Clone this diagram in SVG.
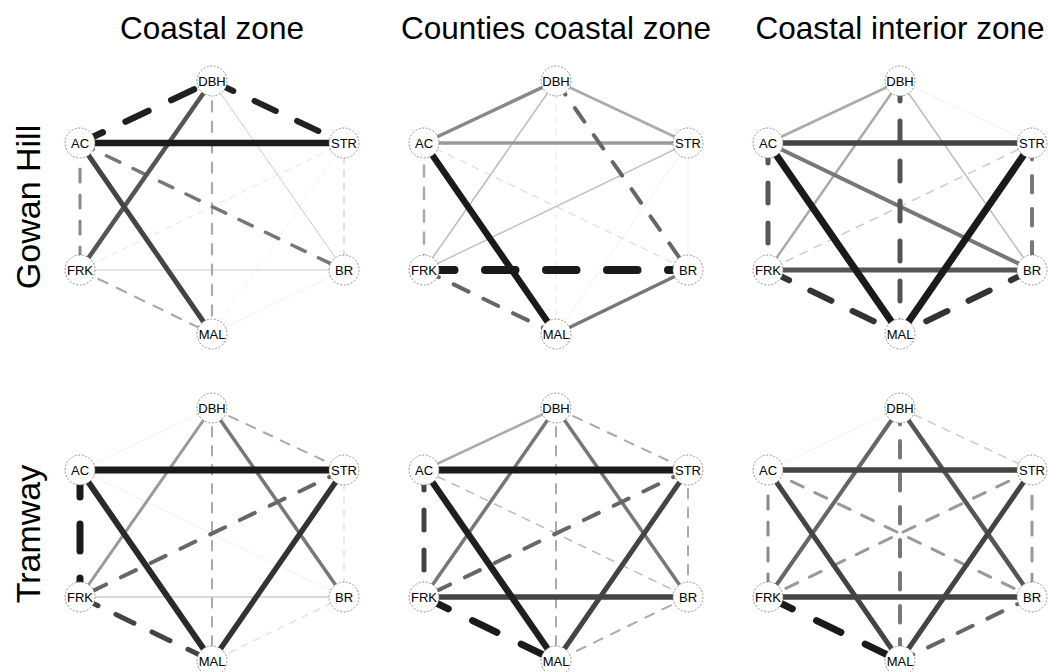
<svg xmlns="http://www.w3.org/2000/svg" width="1048" height="672" viewBox="0 0 1048 672">
<style>
.t{font-family:"Liberation Sans",Arial,sans-serif;fill:#000}
.title{font-size:31.5px;text-anchor:middle}
.row{font-size:34px;text-anchor:middle}
.n circle{fill:#fff;stroke:#7a7a7a;stroke-width:0.8;stroke-dasharray:2 1.6}
.n text{font-family:"Liberation Sans",Arial,sans-serif;font-size:13px;text-anchor:middle;fill:#000}
line{fill:none;stroke-linecap:round}
.s08{stroke-width:0.8}.s1{stroke-width:1}.s15{stroke-width:1.5}.s25{stroke-width:2.5}.s3{stroke-width:3}.s35{stroke-width:3.5}.s4{stroke-width:4}.s45{stroke-width:4.5}.s5{stroke-width:5}.s55{stroke-width:5.5}.s6{stroke-width:6}.s65{stroke-width:6.5}.s7{stroke-width:7}
.d08{stroke-width:0.8;stroke-dasharray:5.3 5.3}.d1{stroke-width:1;stroke-dasharray:6 6}.d12{stroke-width:1.2;stroke-dasharray:6.7 6.7}.d15{stroke-width:1.5;stroke-dasharray:7.8 7.8}.d2{stroke-width:2;stroke-dasharray:9.5 9.5}.d22{stroke-width:2.2;stroke-dasharray:10.2 10.2}.d25{stroke-width:2.5;stroke-dasharray:11.2 11.2}.d3{stroke-width:3;stroke-dasharray:13 13}.d35{stroke-width:3.5;stroke-dasharray:14.7 14.7}.d4{stroke-width:4;stroke-dasharray:16.5 16.5}.d5{stroke-width:5;stroke-dasharray:20 20}.d6{stroke-width:6;stroke-dasharray:23.5 23.5}.d65{stroke-width:6.5;stroke-dasharray:25.2 25.2}.d7{stroke-width:7;stroke-dasharray:27 27}.d8{stroke-width:8;stroke-dasharray:30.5 30.5}
</style>
<rect width="1048" height="672" fill="#fff"/>
<g id="titles">
<text class="t title" x="212" y="39">Coastal zone</text>
<text class="t title" x="556" y="39">Counties coastal zone</text>
<text class="t title" x="900" y="39">Coastal interior zone</text>
<text class="t row" transform="translate(40,207) rotate(-90)">Gowan Hill</text>
<text class="t row" transform="translate(40,534) rotate(-90)">Tramway</text>
</g>

<!-- Panel 1: Gowan Hill / Coastal zone -->
<g id="p1" transform="translate(0,0)">
<g id="p1-edges">
<line class="s08" stroke="#eee" x1="344" y1="270" x2="212" y2="334"/>
<line class="d08" stroke="#eee" x1="344" y1="143" x2="212" y2="334"/>
<line class="d1" stroke="#e6e6e6" x1="344" y1="143" x2="80" y2="270"/>
<line class="s15" stroke="#ddd" x1="80" y1="270" x2="344" y2="270"/>
<line class="s1" stroke="#ccc" x1="212" y1="81" x2="344" y2="270"/>
<line class="d12" stroke="#ccc" x1="344" y1="143" x2="344" y2="270"/>
<line class="d22" stroke="#aaa" x1="212" y1="81" x2="212" y2="334"/>
<line class="d22" stroke="#aaa" x1="80" y1="270" x2="212" y2="334"/>
<line class="d3" stroke="#888" x1="80" y1="143" x2="80" y2="270"/>
<line class="d35" stroke="#777" x1="80" y1="143" x2="344" y2="270"/>
<line class="s45" stroke="#555" x1="212" y1="81" x2="80" y2="270"/>
<line class="s5" stroke="#444" x1="80" y1="143" x2="212" y2="334"/>
<line class="d65" stroke="#1f1f1f" x1="80" y1="143" x2="212" y2="81"/>
<line class="d6" stroke="#222" x1="212" y1="81" x2="344" y2="143"/>
<line class="s65" stroke="#1a1a1a" x1="80" y1="143" x2="344" y2="143"/>
</g>
<g id="p1-DBH" class="n"><circle cx="212" cy="81" r="15"/><text x="212" y="85.5">DBH</text></g>
<g id="p1-AC" class="n"><circle cx="80" cy="143" r="15"/><text x="80" y="147.5">AC</text></g>
<g id="p1-STR" class="n"><circle cx="344" cy="143" r="15"/><text x="344" y="147.5">STR</text></g>
<g id="p1-FRK" class="n"><circle cx="80" cy="270" r="15"/><text x="80" y="274.5">FRK</text></g>
<g id="p1-BR" class="n"><circle cx="344" cy="270" r="15"/><text x="344" y="274.5">BR</text></g>
<g id="p1-MAL" class="n"><circle cx="212" cy="334" r="15"/><text x="212" y="338.5">MAL</text></g>
</g>

<!-- Panel 2: Gowan Hill / Counties coastal zone -->
<g id="p2" transform="translate(344,0)">
<g id="p2-edges">
<line class="s08" stroke="#eee" x1="344" y1="143" x2="212" y2="334"/>
<line class="s08" stroke="#efefef" x1="344" y1="143" x2="344" y2="270"/>
<line class="d1" stroke="#e8e8e8" x1="212" y1="81" x2="212" y2="334"/>
<line class="d12" stroke="#ddd" x1="80" y1="143" x2="344" y2="270"/>
<line class="s15" stroke="#bbb" x1="212" y1="81" x2="80" y2="270"/>
<line class="s15" stroke="#c4c4c4" x1="344" y1="143" x2="80" y2="270"/>
<line class="d25" stroke="#aaa" x1="80" y1="143" x2="80" y2="270"/>
<line class="s25" stroke="#aaa" x1="212" y1="81" x2="344" y2="143"/>
<line class="s35" stroke="#999" x1="80" y1="143" x2="344" y2="143"/>
<line class="s35" stroke="#888" x1="212" y1="81" x2="80" y2="143"/>
<line class="s35" stroke="#777" x1="344" y1="270" x2="212" y2="334"/>
<line class="d4" stroke="#666" x1="212" y1="81" x2="344" y2="270"/>
<line class="d4" stroke="#666" x1="80" y1="270" x2="212" y2="334"/>
<line class="s65" stroke="#1a1a1a" x1="80" y1="143" x2="212" y2="334"/>
<line class="d8" stroke="#1a1a1a" x1="80" y1="270" x2="344" y2="270"/>
</g>
<g id="p2-DBH" class="n"><circle cx="212" cy="81" r="15"/><text x="212" y="85.5">DBH</text></g>
<g id="p2-AC" class="n"><circle cx="80" cy="143" r="15"/><text x="80" y="147.5">AC</text></g>
<g id="p2-STR" class="n"><circle cx="344" cy="143" r="15"/><text x="344" y="147.5">STR</text></g>
<g id="p2-FRK" class="n"><circle cx="80" cy="270" r="15"/><text x="80" y="274.5">FRK</text></g>
<g id="p2-BR" class="n"><circle cx="344" cy="270" r="15"/><text x="344" y="274.5">BR</text></g>
<g id="p2-MAL" class="n"><circle cx="212" cy="334" r="15"/><text x="212" y="338.5">MAL</text></g>
</g>

<!-- Panel 3: Gowan Hill / Coastal interior zone -->
<g id="p3" transform="translate(688,0)">
<g id="p3-edges">
<line class="s08" stroke="#eee" x1="212" y1="81" x2="344" y2="143"/>
<line class="d15" stroke="#ccc" x1="344" y1="143" x2="80" y2="270"/>
<line class="s15" stroke="#bbb" x1="212" y1="81" x2="344" y2="270"/>
<line class="s25" stroke="#aaa" x1="212" y1="81" x2="80" y2="143"/>
<line class="s25" stroke="#aaa" x1="212" y1="81" x2="80" y2="270"/>
<line class="s4" stroke="#777" x1="80" y1="143" x2="344" y2="270"/>
<line class="d4" stroke="#777" x1="344" y1="143" x2="344" y2="270"/>
<line class="d5" stroke="#555" x1="212" y1="81" x2="212" y2="334"/>
<line class="d5" stroke="#555" x1="80" y1="143" x2="80" y2="270"/>
<line class="s5" stroke="#555" x1="80" y1="270" x2="344" y2="270"/>
<line class="s55" stroke="#444" x1="80" y1="143" x2="344" y2="143"/>
<line class="d6" stroke="#333" x1="80" y1="270" x2="212" y2="334"/>
<line class="d6" stroke="#333" x1="344" y1="270" x2="212" y2="334"/>
<line class="s7" stroke="#1a1a1a" x1="80" y1="143" x2="212" y2="334"/>
<line class="s7" stroke="#1a1a1a" x1="344" y1="143" x2="212" y2="334"/>
</g>
<g id="p3-DBH" class="n"><circle cx="212" cy="81" r="15"/><text x="212" y="85.5">DBH</text></g>
<g id="p3-AC" class="n"><circle cx="80" cy="143" r="15"/><text x="80" y="147.5">AC</text></g>
<g id="p3-STR" class="n"><circle cx="344" cy="143" r="15"/><text x="344" y="147.5">STR</text></g>
<g id="p3-FRK" class="n"><circle cx="80" cy="270" r="15"/><text x="80" y="274.5">FRK</text></g>
<g id="p3-BR" class="n"><circle cx="344" cy="270" r="15"/><text x="344" y="274.5">BR</text></g>
<g id="p3-MAL" class="n"><circle cx="212" cy="334" r="15"/><text x="212" y="338.5">MAL</text></g>
</g>

<!-- Panel 4: Tramway / Coastal zone -->
<g id="p4" transform="translate(0,327)">
<g id="p4-edges">
<line class="s08" stroke="#eee" x1="212" y1="81" x2="80" y2="143"/>
<line class="s08" stroke="#eee" x1="80" y1="143" x2="344" y2="270"/>
<line class="d12" stroke="#ddd" x1="344" y1="143" x2="344" y2="270"/>
<line class="d12" stroke="#ddd" x1="344" y1="270" x2="212" y2="334"/>
<line class="s15" stroke="#ccc" x1="80" y1="270" x2="344" y2="270"/>
<line class="d2" stroke="#aaa" x1="212" y1="81" x2="344" y2="143"/>
<line class="d2" stroke="#aaa" x1="212" y1="81" x2="212" y2="334"/>
<line class="s3" stroke="#999" x1="212" y1="81" x2="80" y2="270"/>
<line class="s35" stroke="#777" x1="212" y1="81" x2="344" y2="270"/>
<line class="d4" stroke="#666" x1="344" y1="143" x2="80" y2="270"/>
<line class="d5" stroke="#444" x1="80" y1="270" x2="212" y2="334"/>
<line class="s55" stroke="#333" x1="344" y1="143" x2="212" y2="334"/>
<line class="s6" stroke="#2a2a2a" x1="80" y1="143" x2="212" y2="334"/>
<line class="d7" stroke="#1a1a1a" x1="80" y1="143" x2="80" y2="270"/>
<line class="s7" stroke="#1a1a1a" x1="80" y1="143" x2="344" y2="143"/>
</g>
<g id="p4-DBH" class="n"><circle cx="212" cy="81" r="15"/><text x="212" y="85.5">DBH</text></g>
<g id="p4-AC" class="n"><circle cx="80" cy="143" r="15"/><text x="80" y="147.5">AC</text></g>
<g id="p4-STR" class="n"><circle cx="344" cy="143" r="15"/><text x="344" y="147.5">STR</text></g>
<g id="p4-FRK" class="n"><circle cx="80" cy="270" r="15"/><text x="80" y="274.5">FRK</text></g>
<g id="p4-BR" class="n"><circle cx="344" cy="270" r="15"/><text x="344" y="274.5">BR</text></g>
<g id="p4-MAL" class="n"><circle cx="212" cy="334" r="15"/><text x="212" y="338.5">MAL</text></g>
</g>

<!-- Panel 5: Tramway / Counties coastal zone -->
<g id="p5" transform="translate(344,327)">
<g id="p5-edges">
<line class="d15" stroke="#bbb" x1="80" y1="143" x2="344" y2="270"/>
<line class="d2" stroke="#aaa" x1="212" y1="81" x2="344" y2="143"/>
<line class="d2" stroke="#aaa" x1="212" y1="81" x2="212" y2="334"/>
<line class="d2" stroke="#aaa" x1="344" y1="143" x2="344" y2="270"/>
<line class="d2" stroke="#aaa" x1="344" y1="270" x2="212" y2="334"/>
<line class="s25" stroke="#aaa" x1="212" y1="81" x2="80" y2="143"/>
<line class="s35" stroke="#777" x1="212" y1="81" x2="80" y2="270"/>
<line class="s35" stroke="#777" x1="212" y1="81" x2="344" y2="270"/>
<line class="d4" stroke="#666" x1="344" y1="143" x2="80" y2="270"/>
<line class="d5" stroke="#444" x1="80" y1="143" x2="80" y2="270"/>
<line class="s5" stroke="#444" x1="344" y1="143" x2="212" y2="334"/>
<line class="s55" stroke="#444" x1="80" y1="270" x2="344" y2="270"/>
<line class="s65" stroke="#1f1f1f" x1="80" y1="143" x2="212" y2="334"/>
<line class="d7" stroke="#1a1a1a" x1="80" y1="270" x2="212" y2="334"/>
<line class="s7" stroke="#1a1a1a" x1="80" y1="143" x2="344" y2="143"/>
</g>
<g id="p5-DBH" class="n"><circle cx="212" cy="81" r="15"/><text x="212" y="85.5">DBH</text></g>
<g id="p5-AC" class="n"><circle cx="80" cy="143" r="15"/><text x="80" y="147.5">AC</text></g>
<g id="p5-STR" class="n"><circle cx="344" cy="143" r="15"/><text x="344" y="147.5">STR</text></g>
<g id="p5-FRK" class="n"><circle cx="80" cy="270" r="15"/><text x="80" y="274.5">FRK</text></g>
<g id="p5-BR" class="n"><circle cx="344" cy="270" r="15"/><text x="344" y="274.5">BR</text></g>
<g id="p5-MAL" class="n"><circle cx="212" cy="334" r="15"/><text x="212" y="338.5">MAL</text></g>
</g>

<!-- Panel 6: Tramway / Coastal interior zone -->
<g id="p6" transform="translate(688,327)">
<g id="p6-edges">
<line class="s08" stroke="#eee" x1="212" y1="81" x2="80" y2="143"/>
<line class="d15" stroke="#ccc" x1="212" y1="81" x2="344" y2="143"/>
<line class="d3" stroke="#999" x1="80" y1="143" x2="344" y2="270"/>
<line class="d3" stroke="#888" x1="80" y1="143" x2="80" y2="270"/>
<line class="d3" stroke="#999" x1="344" y1="143" x2="80" y2="270"/>
<line class="d3" stroke="#999" x1="344" y1="143" x2="344" y2="270"/>
<line class="s4" stroke="#666" x1="212" y1="81" x2="80" y2="270"/>
<line class="s45" stroke="#555" x1="212" y1="81" x2="344" y2="270"/>
<line class="d4" stroke="#777" x1="212" y1="81" x2="212" y2="334"/>
<line class="d4" stroke="#666" x1="344" y1="270" x2="212" y2="334"/>
<line class="s5" stroke="#444" x1="80" y1="143" x2="212" y2="334"/>
<line class="s5" stroke="#444" x1="344" y1="143" x2="212" y2="334"/>
<line class="s55" stroke="#444" x1="80" y1="143" x2="344" y2="143"/>
<line class="s55" stroke="#444" x1="80" y1="270" x2="344" y2="270"/>
<line class="d7" stroke="#1a1a1a" x1="80" y1="270" x2="212" y2="334"/>
</g>
<g id="p6-DBH" class="n"><circle cx="212" cy="81" r="15"/><text x="212" y="85.5">DBH</text></g>
<g id="p6-AC" class="n"><circle cx="80" cy="143" r="15"/><text x="80" y="147.5">AC</text></g>
<g id="p6-STR" class="n"><circle cx="344" cy="143" r="15"/><text x="344" y="147.5">STR</text></g>
<g id="p6-FRK" class="n"><circle cx="80" cy="270" r="15"/><text x="80" y="274.5">FRK</text></g>
<g id="p6-BR" class="n"><circle cx="344" cy="270" r="15"/><text x="344" y="274.5">BR</text></g>
<g id="p6-MAL" class="n"><circle cx="212" cy="334" r="15"/><text x="212" y="338.5">MAL</text></g>
</g>
</svg>
